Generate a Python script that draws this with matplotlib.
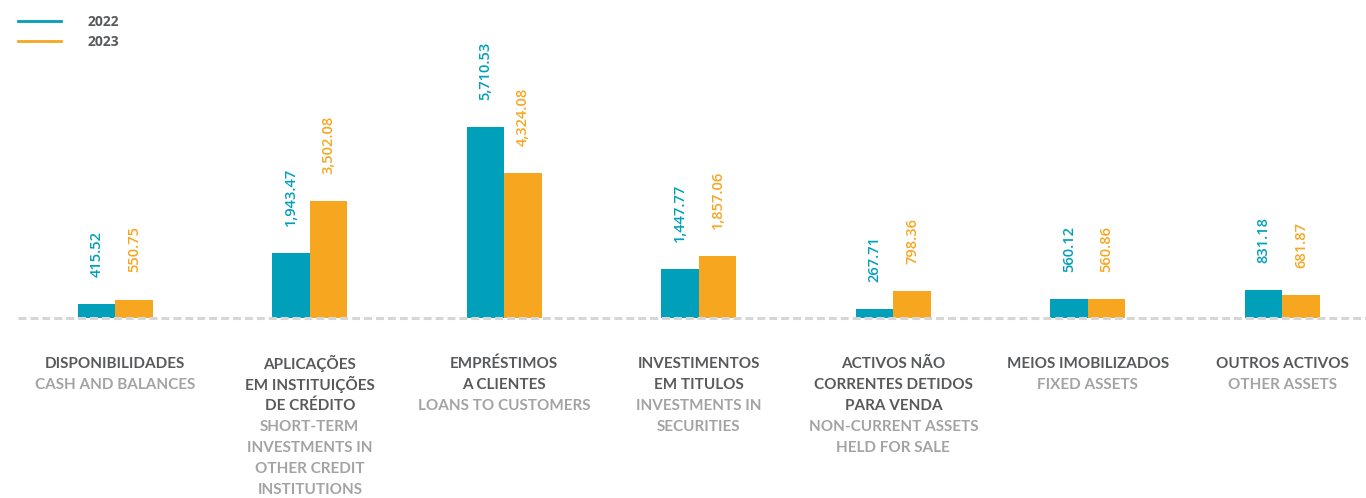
import matplotlib.pyplot as plt
import numpy as np
from matplotlib.lines import Line2D

# balance sheet assets, values per year
categories_pt = [
    ["DISPONIBILIDADES"],
    ["APLICAÇÕES", "EM INSTITUIÇÕES", "DE CRÉDITO"],
    ["EMPRÉSTIMOS", "A CLIENTES"],
    ["INVESTIMENTOS", "EM TITULOS"],
    ["ACTIVOS NÃO", "CORRENTES DETIDOS", "PARA VENDA"],
    ["MEIOS IMOBILIZADOS"],
    ["OUTROS ACTIVOS"],
]
categories_en = [
    ["CASH AND BALANCES"],
    ["SHORT-TERM", "INVESTMENTS IN", "OTHER CREDIT", "INSTITUTIONS"],
    ["LOANS TO CUSTOMERS"],
    ["INVESTMENTS IN", "SECURITIES"],
    ["NON-CURRENT ASSETS", "HELD FOR SALE"],
    ["FIXED ASSETS"],
    ["OTHER ASSETS"],
]
values_2022 = [415.52, 1943.47, 5710.53, 1447.77, 267.71, 560.12, 831.18]
values_2023 = [550.75, 3502.08, 4324.08, 1857.06, 798.36, 560.86, 681.87]
years = ["2022", "2023"]

TEAL = "#00a0bb"
ORANGE = "#f7a61f"
DARK = "#58595b"
GREY = "#a3a3a3"

plt.rcParams["font.family"] = ["Lato", "DejaVu Sans"]

W, H = 1366, 498
fig = plt.figure(figsize=(W / 100, H / 100), dpi=100)
ax = fig.add_axes([18 / W, 1 - 318 / H, 1 - 18 / W, 318 / H])

x = np.arange(len(values_2022))
bw = 0.193
bars_a = ax.bar(x - bw / 2, values_2022, bw, color=TEAL, zorder=2)
bars_b = ax.bar(x + bw / 2, values_2023, bw, color=ORANGE, zorder=2)

for bars, vals, col in [(bars_a, values_2022, TEAL), (bars_b, values_2023, ORANGE)]:
    for b, v in zip(bars, vals):
        ax.annotate(f"{v:,.2f}", (b.get_x() + b.get_width() / 2, v),
                    xytext=(0, 19.5), textcoords="offset points",
                    rotation=90, ha="center", va="bottom", color=col,
                    fontsize=10.5, fontweight="semibold", family=["Open Sans", "DejaVu Sans"])

ax.axhline(0, color="#d6d6d6", lw=2.2, linestyle=(0, (2.6, 1.3)), zorder=3, clip_on=False)

ax.set_xlim(-0.5, 6.43)
ax.set_ylim(0, 9490)
ax.axis("off")

# two-language category labels under the baseline
line_h = 21.1 * 0.72
for i, (pt, en) in enumerate(zip(categories_pt, categories_en)):
    lines = [(t, DARK) for t in pt] + [(t, GREY) for t in en]
    for j, (txt, col) in enumerate(lines):
        ax.annotate(txt, (i, 0), xytext=(0, -45.5 * 0.72 - j * line_h),
                    textcoords="offset points", ha="center", va="center",
                    color=col, fontsize=11, fontweight="bold", annotation_clip=False)

handles = [Line2D([], [], color=TEAL, lw=2), Line2D([], [], color=ORANGE, lw=2)]
leg = fig.legend(handles, years, loc="upper left", bbox_to_anchor=(18 / W, 1 - 15 / H),
                 frameon=False, borderpad=0, borderaxespad=0, handlelength=3.1,
                 handletextpad=1.9, labelspacing=0.45,
                 prop={"family": ["Open Sans", "DejaVu Sans"], "weight": "bold", "size": 10})
for t in leg.get_texts():
    t.set_color(DARK)

fig.savefig("out.png", dpi=100)
